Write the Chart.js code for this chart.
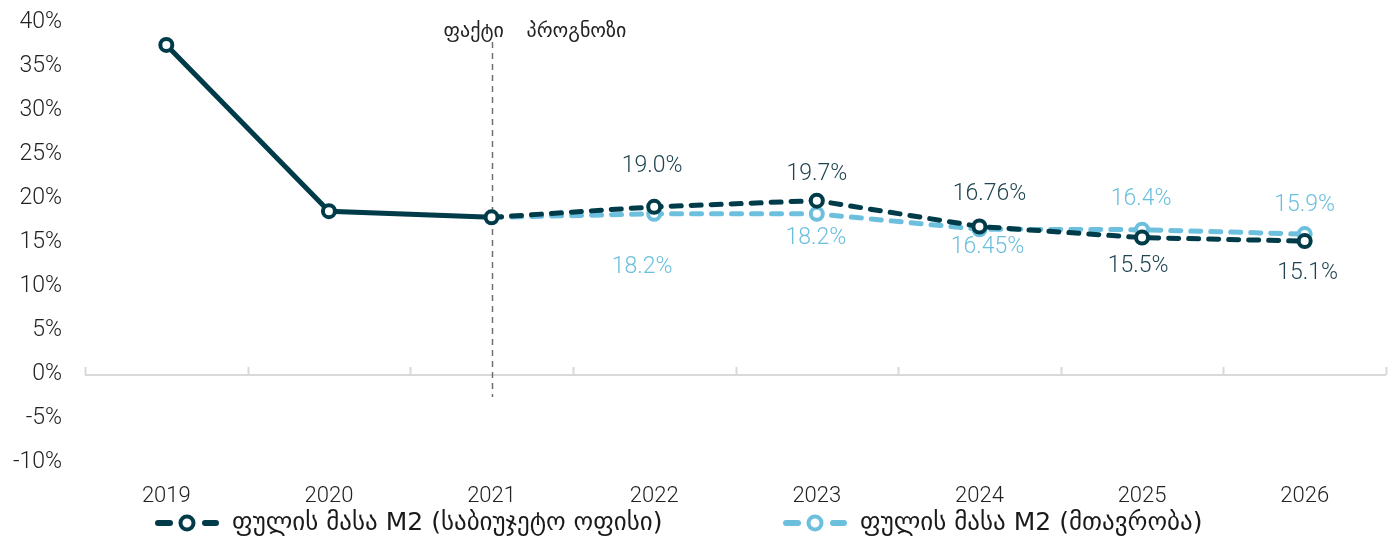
<!DOCTYPE html>
<html lang="ka">
<head>
    <meta charset="UTF-8">
    <title>ფულის მასა M2</title>
    <script src="https://cdn.jsdelivr.net/npm/chart.js@4.4.1/dist/chart.umd.min.js"></script>
    <style>
        html, body { margin: 0; padding: 0; background: #fff; }
        .wrap { width: 1395px; height: 540px; }
    </style>
</head>
<body>
    <div class="wrap"><canvas id="myChart" width="1395" height="540"></canvas></div>

    <script>
        // data
        const years = ['2019', '2020', '2021', '2022', '2023', '2024', '2025', '2026'];
        const budgetOffice = [37.4, 18.5, 17.8, 19.0, 19.7, 16.76, 15.5, 15.1];
        const government = [null, null, 17.8, 18.2, 18.2, 16.45, 16.4, 15.9];
        const yTicks = { min: -10, max: 40, step: 5 };
        const seriesNames = ['ფულის მასა M2 (საბიუჯეტო ოფისი)', 'ფულის მასა M2 (მთავრობა)'];
        const splitIndex = 2; // last actual year
        const splitLabels = ['ფაქტი', 'პროგნოზი'];

        const DARK = '#003b49';
        const LIGHT = '#6cc0de';
        const FONT = "Roboto, 'DejaVu Sans', sans-serif";
        const GEO_FONT = "'DejaVu Sans', sans-serif";

        // label placement (pixels from the point) -- only for the labelled forecast years
        const darkLabelPos = [null, null, null, [-2, -41], [0, -26], [10, -32], [-4, 29], [3, 32]];
        const lightLabelPos = [null, null, null, [-12, 53], [-1, 24], [8, 18], [-1, -30], [0, -29]];

        const fmt = v => (Math.round(v * 10) === v * 10 ? v.toFixed(1) : v.toFixed(2)) + '%';

        const dashAfterSplit = ctx => ctx.p0DataIndex >= splitIndex ? [10, 10] : undefined;

        const dataLabels = {
            id: 'dataLabels',
            afterDatasetsDraw(chart) {
                const c = chart.ctx;
                c.save();
                c.font = '300 23px ' + FONT;
                c.textAlign = 'center';
                c.textBaseline = 'middle';
                [[0, darkLabelPos, DARK], [1, lightLabelPos, LIGHT]].forEach(([di, pos, col]) => {
                    const meta = chart.getDatasetMeta(di);
                    const vals = chart.data.datasets[di].data;
                    c.fillStyle = col === DARK ? '#1f4550' : col;
                    meta.data.forEach((pt, i) => {
                        if (!pos[i] || vals[i] == null) return;
                        c.fillText(fmt(vals[i]), pt.x + pos[i][0], pt.y + pos[i][1]);
                    });
                });
                c.restore();
            }
        };

        const extras = {
            id: 'extras',
            beforeDatasetsDraw(chart) {
                const c = chart.ctx;
                const x = chart.scales.x;
                const y = chart.scales.y;
                const area = chart.chartArea;
                const y0 = y.getPixelForValue(0) + 1;
                // zero line with category tick marks
                c.save();
                c.strokeStyle = '#d9d9d9';
                c.lineWidth = 2;
                c.beginPath();
                c.moveTo(area.left, y0);
                c.lineTo(area.right, y0);
                const half = (x.getPixelForValue(1) - x.getPixelForValue(0)) / 2;
                for (let i = 0; i <= years.length; i++) {
                    const px = Math.round(x.getPixelForValue(i) - half) + 0.5;
                    c.moveTo(px, y0);
                    c.lineTo(px, y0 - 8);
                }
                c.stroke();

                // actual / forecast divider
                const sx = Math.round(x.getPixelForValue(splitIndex)) + 0.5;
                c.strokeStyle = '#6f6f6f';
                c.lineWidth = 1.5;
                c.setLineDash([6, 5]);
                c.beginPath();
                c.moveTo(sx, area.top + 20);
                c.lineTo(sx, y0 + 22);
                c.stroke();
                c.setLineDash([]);
                c.fillStyle = '#222';
                c.font = '20px ' + GEO_FONT;
                c.textBaseline = 'middle';
                c.textAlign = 'left';
                c.fillText(splitLabels[0], sx - 49, 32);
                c.fillText(splitLabels[1], sx + 34, 32);
                c.restore();
            },
            afterDraw(chart) {
                // legend
                const c = chart.ctx;
                const ly = 523;
                const items = [[155, DARK], [783, LIGHT]];
                c.save();
                items.forEach(([lx, col], i) => {
                    c.strokeStyle = col;
                    c.lineWidth = 6;
                    c.lineCap = 'round';
                    c.beginPath();
                    c.moveTo(lx + 3, ly);
                    c.lineTo(lx + 15, ly);
                    c.moveTo(lx + 50, ly);
                    c.lineTo(lx + 61, ly);
                    c.stroke();
                    c.lineWidth = 4;
                    c.fillStyle = '#fff';
                    c.beginPath();
                    c.arc(lx + 32, ly, 6.5, 0, Math.PI * 2);
                    c.fill();
                    c.stroke();
                    c.fillStyle = '#1a1a1a';
                    c.font = '25px ' + GEO_FONT;
                    c.textAlign = 'left';
                    c.textBaseline = 'middle';
                    c.fillText(seriesNames[i], lx + 77, ly);
                });
                c.restore();
            }
        };

        const ctx = document.getElementById('myChart').getContext('2d');
        const myChart = new Chart(ctx, {
            type: 'line',
            data: {
                labels: years,
                datasets: [{
                    label: seriesNames[0],
                    data: budgetOffice,
                    borderColor: DARK,
                    borderWidth: 5,
                    borderCapStyle: 'round',
                    pointBackgroundColor: '#fff',
                    pointBorderColor: DARK,
                    pointBorderWidth: 4,
                    pointRadius: 6,
                    segment: { borderDash: dashAfterSplit }
                }, {
                    label: seriesNames[1],
                    data: government,
                    borderColor: LIGHT,
                    borderWidth: 5,
                    borderCapStyle: 'round',
                    borderDash: [10, 10],
                    pointBackgroundColor: '#fff',
                    pointBorderColor: LIGHT,
                    pointBorderWidth: 4,
                    pointRadius: ctx => ctx.dataIndex <= splitIndex ? 0 : 6
                }]
            },
            options: {
                responsive: false,
                animation: false,
                layout: { autoPadding: false, padding: { top: 22, right: 9, bottom: 30, left: 0 } },
                plugins: {
                    legend: { display: false },
                    tooltip: { enabled: false }
                },
                scales: {
                    x: {
                        offset: true,
                        grid: { display: false },
                        border: { display: false },
                        ticks: { padding: 13, color: '#222', font: { family: FONT, size: 22, weight: 300 } },
                        afterFit: s => { s.height = 48; s.paddingLeft = 0; s.paddingRight = 0; }
                    },
                    y: {
                        min: yTicks.min,
                        max: yTicks.max,
                        grid: { display: false, drawTicks: false },
                        border: { display: false },
                        ticks: {
                            stepSize: yTicks.step,
                            padding: 23,
                            color: '#222',
                            font: { family: FONT, size: 23, weight: 300 },
                            callback: v => v + '%'
                        },
                        afterFit: s => { s.width = 85; s.paddingTop = 0; s.paddingBottom = 0; }
                    }
                }
            },
            plugins: [extras, dataLabels]
        });
    </script>
</body>
</html>
